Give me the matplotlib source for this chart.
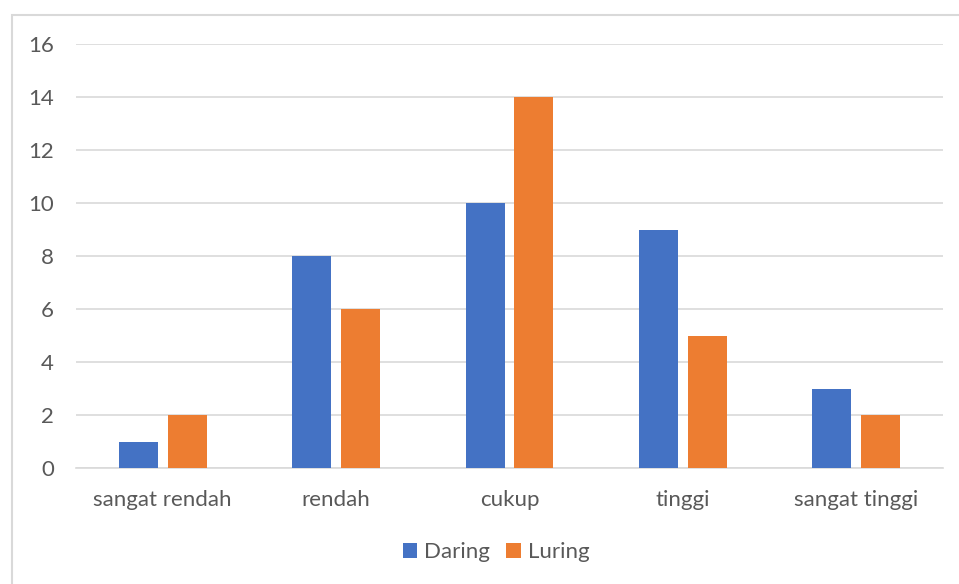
import numpy as np
import matplotlib.pyplot as plt
from matplotlib.patches import Rectangle

plt.rcParams['font.family'] = ['Lato', 'DejaVu Sans']

categories = ["sangat rendah", "rendah", "cukup", "tinggi", "sangat tinggi"]
daring = [1, 8, 10, 9, 3]
luring = [2, 6, 14, 5, 2]
yticks = [0, 2, 4, 6, 8, 10, 12, 14, 16]

blue = "#4472C4"
orange = "#ED7D31"
grey_text = "#595959"
grid_col = "#D9D9D9"

W, H = 959, 584
fig = plt.figure(figsize=(W / 100, H / 100), dpi=100)

# chart border (runs off the right and bottom edge)
fig.patches.append(Rectangle((12 / W, -0.05), 1.0, 1 - 15 / H + 0.05,
                             transform=fig.transFigure, fill=False,
                             edgecolor=grid_col, linewidth=1.5))

ax = fig.add_axes([76 / W, 1 - 468 / H, (943 - 76) / W, (468 - 44) / H])

x = np.arange(len(categories))
w = 0.225
off = 0.141
ax.bar(x - off, daring, w, color=blue, label="Daring", zorder=3)
ax.bar(x + off, luring, w, color=orange, label="Luring", zorder=3)

ax.set_xlim(-0.5, len(categories) - 0.5)
ax.set_ylim(0, 16)
ax.set_yticks(yticks)
ax.set_xticks(x)
ax.set_xticklabels(categories)
ax.yaxis.grid(True, color=grid_col, linewidth=1.2, zorder=0)
ax.set_axisbelow(True)
for s in ["top", "right", "left"]:
    ax.spines[s].set_visible(False)
ax.spines["bottom"].set_color(grid_col)
ax.spines["bottom"].set_linewidth(1.2)
ax.tick_params(length=0, labelsize=16, labelcolor=grey_text)
ax.tick_params(axis="y", pad=16)
ax.tick_params(axis="x", pad=16)

fig.legend(loc="center", bbox_to_anchor=(496 / W, 1 - 552 / H), ncol=2,
           frameon=False, fontsize=16, handlelength=0.65, handleheight=0.65,
           handletextpad=0.3, columnspacing=0.75, labelcolor=grey_text)

plt.savefig("out.png", dpi=100)
